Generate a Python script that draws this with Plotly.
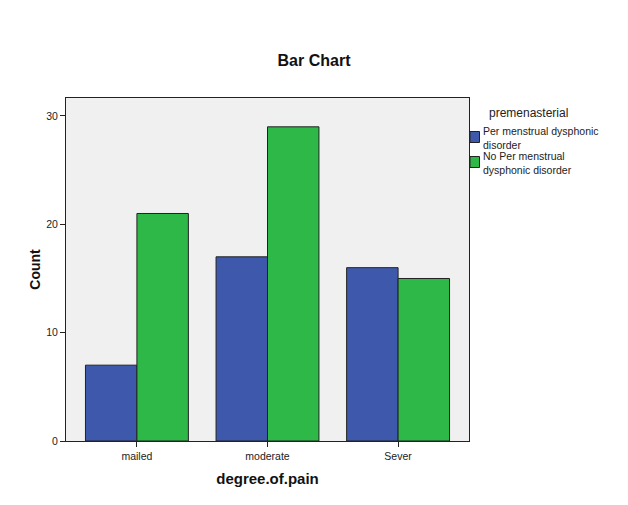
import plotly.graph_objects as go

categories = ["mailed", "moderate", "Sever"]
series_names = ["Per menstrual dysphonic disorder", "No Per menstrual dysphonic disorder"]
legend_labels = ["Per menstrual dysphonic<br>disorder", "No Per menstrual<br>dysphonic disorder"]
legend_title = "premenasterial"
pmdd = [7, 17, 16]
no_pmdd = [21, 29, 15]
y_ticks = [0, 10, 20, 30]

colors = ["#3E58AC", "#2EB848"]
W, H = 628, 505
OFF = 8  # page body offset

fig = go.Figure()
for name, vals, c in zip(series_names, [pmdd, no_pmdd], colors):
    fig.add_trace(go.Bar(
        x=categories, y=vals, name=name, showlegend=False,
        marker=dict(color=c, line=dict(color="#222222", width=1)),
    ))

# custom legend (reference pixel positions converted to paper coords)
def px_x(x):
    return (x - 66) / (469 - 66)

def px_y(y):
    return (441 - y) / (441 - 98)

shapes = []
annotations = [dict(
    text=legend_title, x=px_x(528), y=px_y(113), xref="paper", yref="paper",
    xanchor="center", yanchor="middle", showarrow=False,
    font=dict(size=12, color="#222222"),
)]
tops = [131.5, 156.5]
for i, (c, lab) in enumerate(zip(colors, legend_labels)):
    t = tops[i]
    shapes.append(dict(type="rect", xref="paper", yref="paper",
                       x0=px_x(470), x1=px_x(479.5), y0=px_y(t + 11), y1=px_y(t),
                       fillcolor=c, line=dict(color="#222222", width=1)))
    annotations.append(dict(
        text=lab, x=px_x(481), y=px_y(t + 6), xref="paper", yref="paper",
        xanchor="left", yanchor="middle", align="left", showarrow=False,
        font=dict(size=10.5, color="#222222"),
    ))

fig.update_layout(
    width=W, height=H,
    barmode="group", bargap=0.212, bargroupgap=0,
    paper_bgcolor="white", plot_bgcolor="#F0F0F0",
    margin=dict(l=66 - OFF, r=159 + OFF, t=98 - OFF, b=64 + OFF, autoexpand=False),
    font=dict(family="Liberation Sans, Arial, sans-serif", color="#222222", size=11),
    title=dict(text="<b>Bar Chart</b>", x=(314 - OFF) / W, xanchor="center", xref="container",
               y=1 - (60 - OFF) / H, yanchor="middle", font=dict(size=16, color="#111111")),
    xaxis=dict(
        range=[-0.543, 2.543], showgrid=False, zeroline=False, automargin=False,
        showline=True, linecolor="#222222", linewidth=1, mirror=True,
        ticks="outside", ticklen=5, tickcolor="#222222",
        title=dict(text="<b>degree.of.pain</b>", font=dict(size=15, color="#111111"), standoff=12),
        tickfont=dict(size=10.5),
    ),
    yaxis=dict(
        range=[0, 31.66], showgrid=False, zeroline=False, automargin=False,
        showline=True, linecolor="#222222", linewidth=1, mirror=True,
        ticks="outside", ticklen=5, tickcolor="#222222",
        tickvals=y_ticks,
        title=dict(text="<b>Count</b>", font=dict(size=14, color="#111111"), standoff=2),
        tickfont=dict(size=10.5),
    ),
    shapes=shapes,
    annotations=annotations,
)

fig.write_html("out.html")
